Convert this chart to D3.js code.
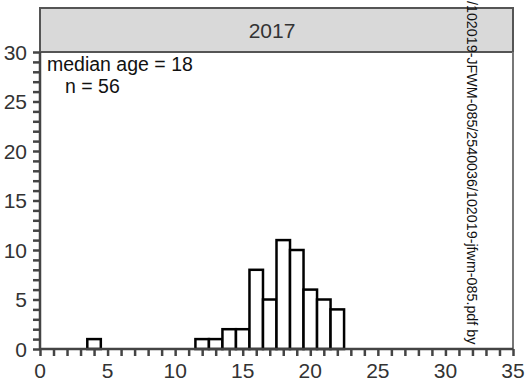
<!DOCTYPE html>
<html><head><meta charset="utf-8">
<script src="https://cdn.jsdelivr.net/npm/d3@7"></script>
<style>body{margin:0;background:#fff}svg{display:block}text{font-family:"Liberation Sans",Arial,sans-serif}</style>
</head><body><svg id="c" width="529" height="382"></svg>
<script>
const ages = [4, 12, 13, 14, 15, 16, 17, 18, 19, 20, 21, 22];
const counts = [1, 1, 1, 2, 2, 8, 5, 11, 10, 6, 5, 4];
const xTickLabels = [0, 5, 10, 15, 20, 25, 30, 35];
const yTickLabels = [0, 5, 10, 15, 20, 25, 30];
const panelTitle = "2017";
const notes = ["median age = 18", "n = 56"];
const watermark = "/102019-JFWM-085/2540036/102019-jfwm-085.pdf by";

const svg = d3.select("#c");
const L = 40, R = 513, T = 52, B = 349, HT = 8;
const x = d3.scaleLinear().domain([0, 35]).range([L, R]);
const y = d3.scaleLinear().domain([0, 30]).range([B, T]);
const axisCol = "#444", textCol = "#333";

// header strip
svg.append("rect").attr("x", L).attr("y", HT).attr("width", R - L).attr("height", T - HT)
  .attr("fill", "#d9d9d9").attr("stroke", "#555").attr("stroke-width", 2);
svg.append("text").attr("x", 272).attr("y", 38).attr("text-anchor", "middle")
  .attr("font-size", 21).attr("fill", textCol).text(panelTitle);

// right border
svg.append("line").attr("x1", R).attr("x2", R).attr("y1", T).attr("y2", B)
  .attr("stroke", "#777").attr("stroke-width", 2);

// bars
svg.append("g").selectAll("rect").data(ages).join("rect")
  .attr("x", d => x(d - 0.5)).attr("width", d => x(d + 0.5) - x(d - 0.5))
  .attr("y", (d, i) => y(counts[i])).attr("height", (d, i) => y(0) - y(counts[i]))
  .attr("fill", "#fff").attr("stroke", "#000").attr("stroke-width", 2.5);

// axes
const xAxis = d3.axisBottom(x).tickValues(d3.range(0, 36)).tickSize(7).tickFormat("");
const gx = svg.append("g").attr("transform", `translate(0,${B})`).call(xAxis);
const yAxis = d3.axisLeft(y).tickValues(d3.range(0, 31)).tickSize(7).tickFormat("");
const gy = svg.append("g").attr("transform", `translate(${L},0)`).call(yAxis);
[gx, gy].forEach(g => {
  g.select(".domain").attr("stroke", axisCol).attr("stroke-width", 2.5);
  g.selectAll(".tick line").attr("stroke", axisCol).attr("stroke-width", 2.5);
});
gx.select(".domain").attr("d", `M${L},0H${R}`);
gy.select(".domain").attr("d", `M0,${B}V${T}`);

svg.append("g").selectAll("text").data(xTickLabels).join("text")
  .attr("x", d => x(d)).attr("y", 378).attr("text-anchor", "middle")
  .attr("font-size", 21).attr("fill", textCol).text(d => d);
svg.append("g").selectAll("text").data(yTickLabels).join("text")
  .attr("x", 27).attr("y", d => y(d) + 7.5).attr("text-anchor", "end")
  .attr("font-size", 21).attr("fill", textCol).text(d => d);

// annotations
svg.append("text").attr("x", 47).attr("y", 70.5).attr("font-size", 19.5).attr("fill", "#111").text(notes[0]);
svg.append("text").attr("x", 65).attr("y", 92.5).attr("font-size", 19.5).attr("fill", "#111").text(notes[1]);

// watermark
svg.append("text").attr("transform", "translate(467,1) rotate(90)")
  .attr("font-size", 14.3).attr("fill", "#111").text(watermark);
</script></body></html>
